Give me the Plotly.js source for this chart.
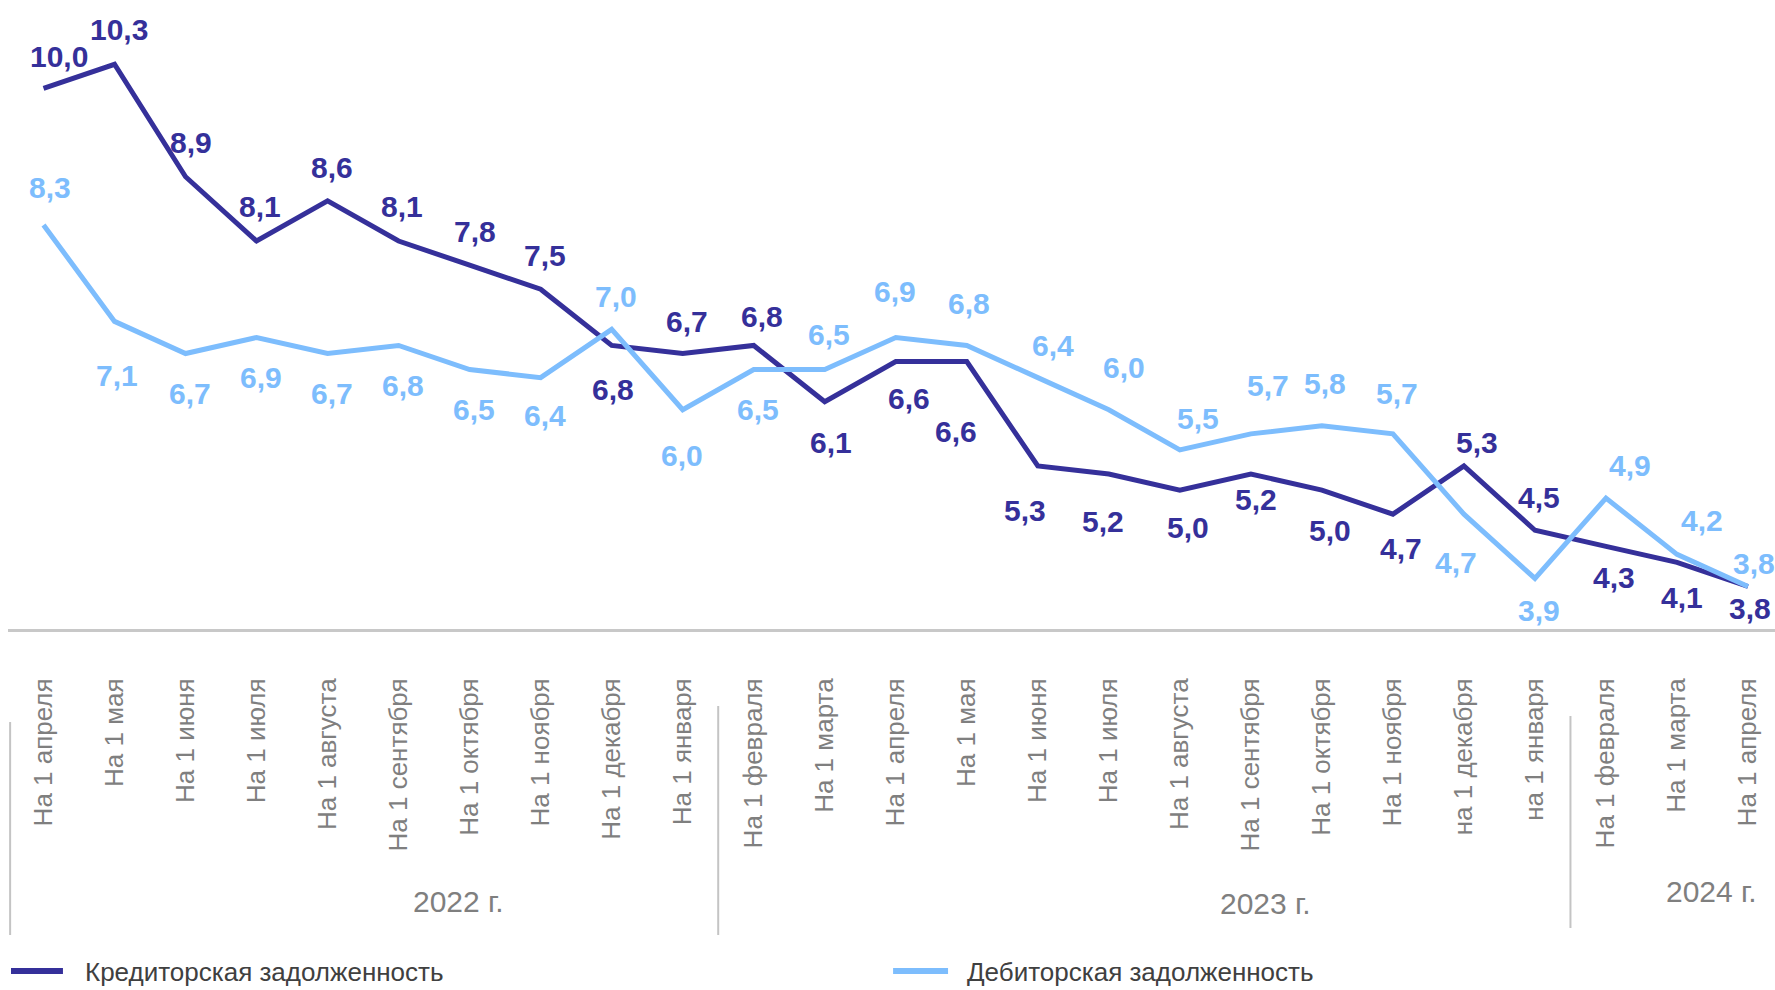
<!DOCTYPE html>
<html>
<head>
<meta charset="utf-8">
<script src="https://cdn.plot.ly/plotly-3.0.1.min.js"></script>
<style>
html,body{margin:0;padding:0;background:#fff;}
#chart{width:1775px;height:990px;}
</style>
</head>
<body>
<div id="chart"></div>
<script>
// ---- data ----
const tickLabels = [
  'На 1 апреля','На 1 мая','На 1 июня','На 1 июля','На 1 августа','На 1 сентября',
  'На 1 октября','На 1 ноября','На 1 декабря','На 1 января',
  'На 1 февраля','На 1 марта','На 1 апреля','На 1 мая','На 1 июня','На 1 июля',
  'На 1 августа','На 1 сентября','На 1 октября','На 1 ноября','на 1 декабря','на 1 января',
  'На 1 февраля','На 1 марта','На 1 апреля'
];
const creditValues = [10.0,10.3,8.9,8.1,8.6,8.1,7.8,7.5,6.8,6.7,6.8,6.1,6.6,6.6,5.3,5.2,5.0,5.2,5.0,4.7,5.3,4.5,4.3,4.1,3.8];
const debitValues  = [8.3,7.1,6.7,6.9,6.7,6.8,6.5,6.4,7.0,6.0,6.5,6.5,6.9,6.8,6.4,6.0,5.5,5.7,5.8,5.7,4.7,3.9,4.9,4.2,3.8];
const seriesNames = ['Кредиторская задолженность','Дебиторская задолженность'];
const yearLabels = ['2022 г.','2023 г.','2024 г.'];

// ---- label placement (pixel offsets of value labels, screen coords) ----
const creditDx = [15,4,5,3,4,3,5,4,1,4,8,6,13,-11,-13,-6,8,5,8,8,13,4,8,5,2];
const creditDy = [-32,-35,-34,-35,-33,-35,-34,-34,44,-32,-29,41,37,70,45,47,37,25,40,34,-23,-33,31,35,22];
const debitDx  = [6,2,4,4,4,4,4,4,4,-1,4,4,-1,2,15,15,18,17,3,4,-8,4,24,25,6];
const debitDy  = [-37,54,40,40,40,40,40,38,-33,46,40,-35,-46,-42,-32,-42,-31,-48,-42,-40,48,32,-33,-34,-23];

// ---- styles ----
const darkColor = '#35309a';
const lightColor = '#7dbdfd';
const grayText = '#7f7f7f';
const sepColor = '#c4c4c4';
const fontFam = 'Liberation Sans, Arial, sans-serif';

const xIdx = tickLabels.map((_, i) => i);
const fmt = v => v.toFixed(1).replace('.', ',');

const traces = [
  {x: xIdx, y: creditValues, name: seriesNames[0], type: 'scatter', mode: 'lines',
   line: {color: darkColor, width: 5}, hoverinfo: 'skip'},
  {x: xIdx, y: debitValues, name: seriesNames[1], type: 'scatter', mode: 'lines',
   line: {color: lightColor, width: 5}, hoverinfo: 'skip'}
];

const annotations = [];
creditValues.forEach((v, i) => annotations.push({
  x: i, y: v, xref: 'x', yref: 'y', text: fmt(v), showarrow: false,
  xshift: creditDx[i], yshift: -creditDy[i],
  font: {family: fontFam, size: 30, color: darkColor, weight: 'bold'}
}));
debitValues.forEach((v, i) => annotations.push({
  x: i, y: v, xref: 'x', yref: 'y', text: fmt(v), showarrow: false,
  xshift: debitDx[i], yshift: -debitDy[i],
  font: {family: fontFam, size: 30, color: lightColor, weight: 'bold'}
}));

// year group labels
const yearPos = [[0.2547, -0.434], [0.7119, -0.4372], [0.9643, -0.4181]];
yearLabels.forEach((t, i) => annotations.push({
  x: yearPos[i][0], y: yearPos[i][1], xref: 'paper', yref: 'paper', text: t, showarrow: false,
  xanchor: 'center', yanchor: 'middle',
  font: {family: fontFam, size: 30, color: grayText}
}));

// legend (manual)
const legendItems = [
  {x0: 0.0017, x1: 0.0311, tx: 0.0424, color: darkColor, name: seriesNames[0]},
  {x0: 0.5009, x1: 0.5320, tx: 0.5416, color: lightColor, name: seriesNames[1]}
];
const legendY = -0.5437;
legendItems.forEach(it => annotations.push({
  x: it.tx, y: legendY - 0.002, xref: 'paper', yref: 'paper', text: it.name, showarrow: false,
  xanchor: 'left', yanchor: 'middle',
  font: {family: fontFam, size: 26, color: '#404040'}
}));

const shapes = [];
legendItems.forEach(it => shapes.push({
  type: 'line', xref: 'paper', yref: 'paper', x0: it.x0, x1: it.x1, y0: legendY, y1: legendY,
  line: {color: it.color, width: 6}
}));
// group separators
const seps = [[-0.47, -0.1479, -0.4865], [9.5, -0.1224, -0.4865], [21.5, -0.1383, -0.4754]];
seps.forEach(s => shapes.push({
  type: 'line', xref: 'x', yref: 'paper', x0: s[0], x1: s[0], y0: s[1], y1: s[2],
  line: {color: sepColor, width: 2}
}));

const layout = {
  width: 1775, height: 990,
  margin: {l: 8, r: 0, t: 0, b: 361, autoexpand: false},
  paper_bgcolor: '#ffffff', plot_bgcolor: '#ffffff',
  showlegend: false,
  xaxis: {
    range: [-0.5, 24.38], tickmode: 'array', tickvals: xIdx, ticktext: tickLabels,
    tickangle: -90, ticks: '', ticklabelstandoff: 36,
    tickfont: {family: fontFam, size: 26, color: grayText},
    showgrid: false, zeroline: false, showline: true, linecolor: '#c8c8c8', linewidth: 3,
    fixedrange: true
  },
  yaxis: {
    range: [3.271, 11.10], visible: false, showgrid: false, zeroline: false, fixedrange: true
  },
  annotations: annotations,
  shapes: shapes
};

Plotly.newPlot('chart', traces, layout, {displayModeBar: false, staticPlot: true});
</script>
</body>
</html>
